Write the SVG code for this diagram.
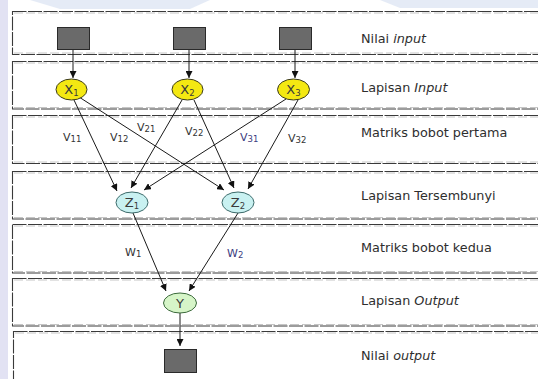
<svg xmlns="http://www.w3.org/2000/svg" width="538" height="379" viewBox="0 0 538 379">
  <defs>
    <marker id="arrow" viewBox="0 0 10 10" refX="10" refY="5" markerWidth="7" markerHeight="7" markerUnits="userSpaceOnUse" orient="auto">
      <path d="M0,0 L10,5 L0,10 z" fill="#111"/>
    </marker>
    <style>
      .band { fill: #ffffff; stroke: #3a3a3a; stroke-width: 1.1; stroke-dasharray: 14 1.5; }
      .band2 { fill: none; stroke: #b8b8b8; stroke-width: 0.8; stroke-dasharray: 9 3; }
      .box { fill: #6a6a6a; stroke: #2a2a2a; stroke-width: 1; }
      .inp { fill: #f4e812; stroke: #3a3a20; stroke-width: 1; }
      .hid { fill: #c9f1f1; stroke: #3c6a6a; stroke-width: 1; }
      .out { fill: #d6f5c8; stroke: #3c6a3c; stroke-width: 1; }
      .edge { stroke: #1a1a1a; stroke-width: 1; fill: none; marker-end: url(#arrow); }
      .nl { font-family: "DejaVu Sans", Verdana, sans-serif; font-size: 13px; fill: #3a3a3a; text-anchor: middle; }
      .sub { font-size: 8.5px; }
      .wl { font-family: "DejaVu Sans", Verdana, sans-serif; font-size: 11px; fill: #333; }
      .wb { fill: #3c3c80; }
      .lbl { font-family: "DejaVu Sans", Verdana, sans-serif; font-size: 12.8px; fill: #2e2e2e; }
      .it { font-style: italic; }
    </style>
  </defs>

  <!-- soft backdrop tints at the page edges -->
  <rect x="0" y="0" width="538" height="379" fill="#ffffff"/>
  <rect x="0" y="0" width="8" height="379" fill="#d6d6ee" opacity="0.7"/>
  <path d="M30,0 L210,0 L190,9 L60,9 z" fill="#dfe6f4" opacity="0.8"/>
  <path d="M380,0 L540,0 L540,8 L400,8 z" fill="#dfe6f4" opacity="0.8"/>

  <!-- layer bands -->
  <g id="bands">
    <rect class="band" x="12.5" y="11.5" width="540" height="43"/>
    <rect class="band" x="12.5" y="61.5" width="540" height="47.5"/>
    <rect class="band" x="12.5" y="115.5" width="540" height="48"/>
    <rect class="band" x="12.5" y="171.5" width="540" height="47.5"/>
    <rect class="band" x="12.5" y="224.5" width="540" height="48.5"/>
    <rect class="band" x="12.5" y="278.5" width="540" height="47.5"/>
    <rect class="band" x="13.5" y="331.5" width="540" height="60"/>
    <line class="band2" x1="14" y1="13" x2="538" y2="13"/>
    <line class="band2" x1="14" y1="53" x2="538" y2="53"/>
    <line class="band2" x1="14" y1="63" x2="538" y2="63"/>
    <line class="band2" x1="14" y1="107.5" x2="538" y2="107.5"/>
    <line class="band2" x1="14" y1="117" x2="538" y2="117"/>
    <line class="band2" x1="14" y1="162" x2="538" y2="162"/>
    <line class="band2" x1="14" y1="173" x2="538" y2="173"/>
    <line class="band2" x1="14" y1="217.5" x2="538" y2="217.5"/>
    <line class="band2" x1="14" y1="226" x2="538" y2="226"/>
    <line class="band2" x1="14" y1="271.5" x2="538" y2="271.5"/>
    <line class="band2" x1="14" y1="280" x2="538" y2="280"/>
    <line class="band2" x1="14" y1="324.5" x2="538" y2="324.5"/>
    <line class="band2" x1="15" y1="333" x2="538" y2="333"/>
  </g>

  <!-- layer captions -->
  <g id="captions">
    <text class="lbl" x="361" y="43">Nilai <tspan class="it">input</tspan></text>
    <text class="lbl" x="361" y="92">Lapisan <tspan class="it">Input</tspan></text>
    <text class="lbl" x="361" y="137">Matriks bobot pertama</text>
    <text class="lbl" x="361" y="200">Lapisan Tersembunyi</text>
    <text class="lbl" x="361" y="252">Matriks bobot kedua</text>
    <text class="lbl" x="361" y="305">Lapisan <tspan class="it">Output</tspan></text>
    <text class="lbl" x="361" y="360">Nilai <tspan class="it">output</tspan></text>
  </g>

  <!-- connectors -->
  <g id="connectors">
    <line class="edge" x1="73" y1="49" x2="73" y2="78"/>
    <line class="edge" x1="189" y1="49" x2="189" y2="78"/>
    <line class="edge" x1="295" y1="49" x2="295" y2="78"/>

    <line class="edge" x1="74" y1="100" x2="117" y2="191"/>
    <line class="edge" x1="79" y1="97" x2="224" y2="190"/>
    <line class="edge" x1="182" y1="100" x2="131" y2="188"/>
    <line class="edge" x1="194" y1="100" x2="234" y2="188"/>
    <line class="edge" x1="286" y1="99" x2="144" y2="190"/>
    <line class="edge" x1="298" y1="100" x2="248" y2="189"/>

    <line class="edge" x1="133" y1="213" x2="166" y2="291"/>
    <line class="edge" x1="238" y1="213" x2="189" y2="291"/>

    <line class="edge" x1="180" y1="313" x2="180" y2="346"/>
  </g>

  <!-- weight labels -->
  <g id="weights">
    <text class="wl" x="63" y="141">V<tspan class="sub" dy="1">11</tspan></text>
    <text class="wl" x="110" y="141">V<tspan class="sub" dy="1">12</tspan></text>
    <text class="wl" x="137" y="131">V<tspan class="sub" dy="1">21</tspan></text>
    <text class="wl" x="185" y="135">V<tspan class="sub" dy="1">22</tspan></text>
    <text class="wl wb" x="240" y="141">V<tspan class="sub" dy="1">31</tspan></text>
    <text class="wl" x="288" y="142">V<tspan class="sub" dy="1">32</tspan></text>
    <text class="wl" x="125" y="256">W<tspan class="sub" dy="1">1</tspan></text>
    <text class="wl wb" x="227" y="257">W<tspan class="sub" dy="1">2</tspan></text>
  </g>

  <!-- input values -->
  <g id="in1"><rect class="box" x="57.5" y="27.5" width="32" height="22"/></g>
  <g id="in2"><rect class="box" x="173.5" y="27.5" width="32" height="22"/></g>
  <g id="in3"><rect class="box" x="279.5" y="27.5" width="32" height="22"/></g>

  <!-- input layer -->
  <g id="x1"><ellipse class="inp" cx="71.5" cy="89.5" rx="15.5" ry="10.5"/><text class="nl" x="71.5" y="94">X<tspan class="sub" dy="2">1</tspan></text></g>
  <g id="x2"><ellipse class="inp" cx="187.5" cy="89.5" rx="15.5" ry="10.5"/><text class="nl" x="187.5" y="94">X<tspan class="sub" dy="2">2</tspan></text></g>
  <g id="x3"><ellipse class="inp" cx="293.5" cy="89.5" rx="16" ry="10.5"/><text class="nl" x="293.5" y="94">X<tspan class="sub" dy="2">3</tspan></text></g>

  <!-- hidden layer -->
  <g id="z1"><ellipse class="hid" cx="132" cy="202.5" rx="16" ry="10.5"/><text class="nl" x="132" y="207">Z<tspan class="sub" dy="2">1</tspan></text></g>
  <g id="z2"><ellipse class="hid" cx="238" cy="202.5" rx="16" ry="10.5"/><text class="nl" x="238" y="207">Z<tspan class="sub" dy="2">2</tspan></text></g>

  <!-- output layer -->
  <g id="y"><ellipse class="out" cx="180" cy="303" rx="16.5" ry="10"/><text class="nl" x="180" y="307.5">Y</text></g>

  <!-- output value -->
  <g id="outval"><rect class="box" x="164.5" y="349.5" width="32" height="23"/></g>
</svg>
